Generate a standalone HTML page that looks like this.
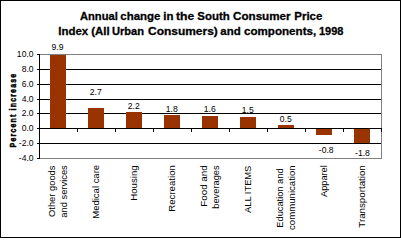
<!DOCTYPE html>
<html><head><meta charset="utf-8"><style>
html,body{margin:0;padding:0;background:#fff;}
body{width:401px;height:238px;position:relative;overflow:hidden;font-family:"Liberation Sans", sans-serif;color:#000;}
</style></head><body>
<svg width="401" height="238" style="position:absolute;left:0;top:0" shape-rendering="crispEdges"><rect x="0" y="0" width="401" height="1" fill="#000"/><rect x="0" y="237" width="401" height="1" fill="#000"/><rect x="0" y="0" width="1" height="238" fill="#000"/><rect x="400" y="0" width="1" height="238" fill="#000"/><rect x="39" y="54" width="343" height="1" fill="#808080"/><rect x="381" y="54" width="1" height="105" fill="#808080"/><rect x="39" y="158" width="343" height="1" fill="#808080"/><rect x="40" y="69" width="341" height="1" fill="#000"/><rect x="40" y="84" width="341" height="1" fill="#000"/><rect x="40" y="99" width="341" height="1" fill="#000"/><rect x="40" y="113" width="341" height="1" fill="#000"/><rect x="40" y="143" width="341" height="1" fill="#000"/><rect x="50" y="55" width="16" height="73" fill="#993300"/><rect x="88" y="108" width="16" height="20" fill="#993300"/><rect x="126" y="112" width="16" height="16" fill="#993300"/><rect x="164" y="115" width="16" height="13" fill="#993300"/><rect x="202" y="116" width="16" height="12" fill="#993300"/><rect x="240" y="117" width="16" height="11" fill="#993300"/><rect x="278" y="125" width="16" height="3" fill="#993300"/><rect x="316" y="129" width="16" height="6" fill="#993300"/><rect x="354" y="129" width="16" height="14" fill="#993300"/><rect x="39" y="128" width="343" height="1" fill="#000"/><rect x="39" y="54" width="1" height="105" fill="#000"/><rect x="37" y="54" width="2" height="1" fill="#000"/><rect x="37" y="69" width="2" height="1" fill="#000"/><rect x="37" y="84" width="2" height="1" fill="#000"/><rect x="37" y="99" width="2" height="1" fill="#000"/><rect x="37" y="113" width="2" height="1" fill="#000"/><rect x="37" y="128" width="2" height="1" fill="#000"/><rect x="37" y="143" width="2" height="1" fill="#000"/><rect x="37" y="158" width="2" height="1" fill="#000"/><rect x="77" y="129" width="1" height="3" fill="#000"/><rect x="115" y="129" width="1" height="3" fill="#000"/><rect x="153" y="129" width="1" height="3" fill="#000"/><rect x="191" y="129" width="1" height="3" fill="#000"/><rect x="229" y="129" width="1" height="3" fill="#000"/><rect x="267" y="129" width="1" height="3" fill="#000"/><rect x="305" y="129" width="1" height="3" fill="#000"/><rect x="343" y="129" width="1" height="3" fill="#000"/><rect x="381" y="129" width="1" height="3" fill="#000"/></svg><svg width="0" height="0" style="position:absolute"><filter id="fb" x="0" y="0" width="100%" height="100%" color-interpolation-filters="sRGB"><feComponentTransfer><feFuncA type="discrete" tableValues="0 1"/></feComponentTransfer></filter><filter id="fr" x="0" y="0" width="100%" height="100%" color-interpolation-filters="sRGB"><feComponentTransfer><feFuncA type="linear" slope="1"/></feComponentTransfer></filter></svg><div style="position:absolute;left:0;top:0;width:401px;height:238px;"><div style="position:absolute;left:80.30px;top:11px;font-size:11.45px;letter-spacing:0px;font-weight:bold;line-height:1;white-space:nowrap;transform-origin:0 0;transform:scaleX(0.9737);-webkit-text-stroke:0.3px #000;">Annual</div><div style="position:absolute;left:120.30px;top:11px;font-size:11.45px;letter-spacing:0px;font-weight:bold;line-height:1;white-space:nowrap;transform-origin:0 0;transform:scaleX(1.0000);-webkit-text-stroke:0.3px #000;">change</div><div style="position:absolute;left:163.30px;top:11px;font-size:11.45px;letter-spacing:0px;font-weight:bold;line-height:1;white-space:nowrap;transform-origin:0 0;transform:scaleX(1.0000);-webkit-text-stroke:0.3px #000;">in</div><div style="position:absolute;left:176.30px;top:11px;font-size:11.45px;letter-spacing:0px;font-weight:bold;line-height:1;white-space:nowrap;transform-origin:0 0;transform:scaleX(1.0588);-webkit-text-stroke:0.3px #000;">the</div><div style="position:absolute;left:197.30px;top:11px;font-size:11.45px;letter-spacing:0px;font-weight:bold;line-height:1;white-space:nowrap;transform-origin:0 0;transform:scaleX(1.0000);-webkit-text-stroke:0.3px #000;">South</div><div style="position:absolute;left:233.30px;top:11px;font-size:11.45px;letter-spacing:0px;font-weight:bold;line-height:1;white-space:nowrap;transform-origin:0 0;transform:scaleX(1.0182);-webkit-text-stroke:0.3px #000;">Consumer</div><div style="position:absolute;left:294.30px;top:11px;font-size:11.45px;letter-spacing:0px;font-weight:bold;line-height:1;white-space:nowrap;transform-origin:0 0;transform:scaleX(1.0000);-webkit-text-stroke:0.3px #000;">Price</div><div style="position:absolute;left:58.30px;top:26px;font-size:11.45px;letter-spacing:0px;font-weight:bold;line-height:1;white-space:nowrap;transform-origin:0 0;transform:scaleX(1.0000);-webkit-text-stroke:0.3px #000;">Index</div><div style="position:absolute;left:91.30px;top:26px;font-size:11.45px;letter-spacing:0px;font-weight:bold;line-height:1;white-space:nowrap;transform-origin:0 0;transform:scaleX(1.0000);-webkit-text-stroke:0.3px #000;">(All</div><div style="position:absolute;left:112.30px;top:26px;font-size:11.45px;letter-spacing:0px;font-weight:bold;line-height:1;white-space:nowrap;transform-origin:0 0;transform:scaleX(0.9688);-webkit-text-stroke:0.3px #000;">Urban</div><div style="position:absolute;left:148.30px;top:26px;font-size:11.45px;letter-spacing:0px;font-weight:bold;line-height:1;white-space:nowrap;transform-origin:0 0;transform:scaleX(1.0455);-webkit-text-stroke:0.3px #000;">Consumers)</div><div style="position:absolute;left:220.30px;top:26px;font-size:11.45px;letter-spacing:0px;font-weight:bold;line-height:1;white-space:nowrap;transform-origin:0 0;transform:scaleX(1.0000);-webkit-text-stroke:0.3px #000;">and</div><div style="position:absolute;left:244.30px;top:26px;font-size:11.45px;letter-spacing:0px;font-weight:bold;line-height:1;white-space:nowrap;transform-origin:0 0;transform:scaleX(1.0145);-webkit-text-stroke:0.3px #000;">components,</div><div style="position:absolute;left:319.30px;top:26px;font-size:11.45px;letter-spacing:0px;font-weight:bold;line-height:1;white-space:nowrap;transform-origin:0 0;transform:scaleX(0.9618);-webkit-text-stroke:0.3px #000;">1998</div><div style="position:absolute;left:11.6px;top:110.2px;width:0;height:0"><div style="position:absolute;left:0;top:0;transform:translate(-50%,-50%) rotate(-90deg) scaleX(0.73);font-size:9.6px;letter-spacing:1.6px;font-weight:bold;-webkit-text-stroke:0.5px #000;line-height:11px;white-space:nowrap">Percent increase</div></div></div><div style="position:absolute;left:0;top:0;width:401px;height:238px;"><div style="position:absolute;left:33.6px;top:50.2px;font-size:8.6px;line-height:1;white-space:nowrap;transform:translateX(-100%);">10.0</div><div style="position:absolute;left:33.6px;top:65.2px;font-size:8.6px;line-height:1;white-space:nowrap;transform:translateX(-100%);">8.0</div><div style="position:absolute;left:33.6px;top:80.2px;font-size:8.6px;line-height:1;white-space:nowrap;transform:translateX(-100%);">6.0</div><div style="position:absolute;left:33.6px;top:95.2px;font-size:8.6px;line-height:1;white-space:nowrap;transform:translateX(-100%);">4.0</div><div style="position:absolute;left:33.6px;top:109.2px;font-size:8.6px;line-height:1;white-space:nowrap;transform:translateX(-100%);">2.0</div><div style="position:absolute;left:33.6px;top:124.2px;font-size:8.6px;line-height:1;white-space:nowrap;transform:translateX(-100%);">0.0</div><div style="position:absolute;left:33.6px;top:139.2px;font-size:8.6px;line-height:1;white-space:nowrap;transform:translateX(-100%);">-2.0</div><div style="position:absolute;left:33.6px;top:154.2px;font-size:8.6px;line-height:1;white-space:nowrap;transform:translateX(-100%);">-4.0</div><div style="position:absolute;left:57.5px;top:43px;font-size:8.6px;line-height:1;white-space:nowrap;transform:translateX(-50%);">9.9</div><div style="position:absolute;left:95.75px;top:88px;font-size:8.6px;line-height:1;white-space:nowrap;transform:translateX(-50%);">2.7</div><div style="position:absolute;left:133.75px;top:102px;font-size:8.6px;line-height:1;white-space:nowrap;transform:translateX(-50%);">2.2</div><div style="position:absolute;left:171.75px;top:105px;font-size:8.6px;line-height:1;white-space:nowrap;transform:translateX(-50%);">1.8</div><div style="position:absolute;left:209.75px;top:105px;font-size:8.6px;line-height:1;white-space:nowrap;transform:translateX(-50%);">1.6</div><div style="position:absolute;left:247.75px;top:106px;font-size:8.6px;line-height:1;white-space:nowrap;transform:translateX(-50%);">1.5</div><div style="position:absolute;left:285.75px;top:115px;font-size:8.6px;line-height:1;white-space:nowrap;transform:translateX(-50%);">0.5</div><div style="position:absolute;left:326.2px;top:146px;font-size:8.6px;line-height:1;white-space:nowrap;transform:translateX(-50%);">-0.8</div><div style="position:absolute;left:362.5px;top:149px;font-size:8.6px;line-height:1;white-space:nowrap;transform:translateX(-50%);">-1.8</div><div style="position:absolute;left:0;top:0;font-size:9.6px;line-height:11px;white-space:nowrap;transform-origin:0 0;transform:translate(45.65px,217.00px) rotate(-90deg) scaleX(0.9753)">Other goods</div><div style="position:absolute;left:0;top:0;font-size:9.6px;line-height:11px;white-space:nowrap;transform-origin:0 0;transform:translate(57.90px,217.70px) rotate(-90deg) scaleX(0.9740)">and services</div><div style="position:absolute;left:0;top:0;font-size:9.6px;line-height:11px;white-space:nowrap;transform-origin:0 0;transform:translate(89.65px,218.70px) rotate(-90deg) scaleX(0.9889)">Medical care</div><div style="position:absolute;left:0;top:0;font-size:9.6px;line-height:11px;white-space:nowrap;transform-origin:0 0;transform:translate(127.65px,200.70px) rotate(-90deg) scaleX(1.0032)">Housing</div><div style="position:absolute;left:0;top:0;font-size:9.6px;line-height:11px;white-space:nowrap;transform-origin:0 0;transform:translate(165.65px,211.70px) rotate(-90deg) scaleX(1.0033)">Recreation</div><div style="position:absolute;left:0;top:0;font-size:9.6px;line-height:11px;white-space:nowrap;transform-origin:0 0;transform:translate(197.65px,206.70px) rotate(-90deg) scaleX(1.0217)">Food and</div><div style="position:absolute;left:0;top:0;font-size:9.6px;line-height:11px;white-space:nowrap;transform-origin:0 0;transform:translate(210.00px,208.70px) rotate(-90deg) scaleX(0.9668)">beverages</div><div style="position:absolute;left:0;top:0;font-size:9.6px;line-height:11px;white-space:nowrap;transform-origin:0 0;transform:translate(241.65px,213.00px) rotate(-90deg) scaleX(0.9722)">ALL ITEMS</div><div style="position:absolute;left:0;top:0;font-size:9.6px;line-height:11px;white-space:nowrap;transform-origin:0 0;transform:translate(273.65px,227.70px) rotate(-90deg) scaleX(0.9659)">Education and</div><div style="position:absolute;left:0;top:0;font-size:9.6px;line-height:11px;white-space:nowrap;transform-origin:0 0;transform:translate(285.90px,230.00px) rotate(-90deg) scaleX(1.0030)">communication</div><div style="position:absolute;left:0;top:0;font-size:9.6px;line-height:11px;white-space:nowrap;transform-origin:0 0;transform:translate(317.65px,197.00px) rotate(-90deg) scaleX(0.9612)">Apparel</div><div style="position:absolute;left:0;top:0;font-size:9.6px;line-height:11px;white-space:nowrap;transform-origin:0 0;transform:translate(355.65px,227.70px) rotate(-90deg) scaleX(1.0161)">Transportation</div></div>
</body></html>
